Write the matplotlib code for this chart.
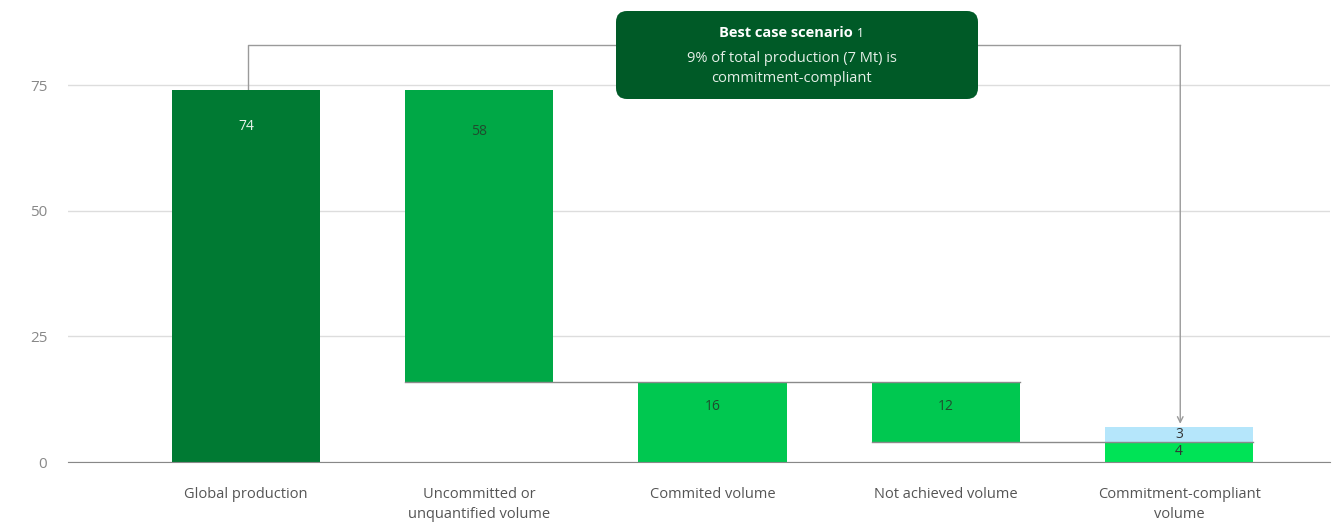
import numpy as np
import matplotlib.pyplot as plt
from matplotlib.patches import FancyBboxPatch

plt.rcParams['font.family'] = ['Open Sans', 'DejaVu Sans']

# waterfall data (Mt)
categories = ['Global production', 'Uncommitted or\nunquantified volume', 'Commited volume',
              'Not achieved volume', 'Commitment-compliant\nvolume']
values = [74, 58, 16, 12, 4]
extra = 3  # top part of last bar
bottoms = [0, 16, 0, 4, 0]
colors = ['#007A33', '#00A846', '#00C850', '#00C850', '#00E356']
extra_color = '#B5E6FB'
label_colors = ['#E8F2EA', '#1F4D2E', '#1F4D2E', '#1F4D2E', '#1F4D2E']
label_drop = [36, 41, 25, 25]  # px below bar top

x = np.arange(len(categories))
w = 0.635

fig = plt.figure(figsize=(13.34, 5.22), dpi=100)
ax = fig.add_axes([68 / 1334, 60 / 522, 1262 / 1334, 402 / 522])

ax.bar(x, values, w, bottom=bottoms, color=colors, edgecolor='none', zorder=2)
ax.bar(x[-1], extra, w, bottom=values[-1], color=extra_color, edgecolor='none', zorder=2)

# value labels
for i in range(len(categories) - 1):
    top = bottoms[i] + values[i]
    ax.annotate(str(values[i]), (x[i], top), xytext=(0, -label_drop[i] * 0.72),
                textcoords='offset points', ha='center', va='center', fontsize=10,
                color=label_colors[i])
ax.text(x[-1], values[-1] / 2, str(values[-1]), ha='center', va='center', fontsize=10,
        color='#333333', zorder=3)
ax.text(x[-1], values[-1] + extra / 2, str(extra), ha='center', va='center', fontsize=10,
        color='#333333', zorder=3)

# connector lines between steps
lc = '#8a8a8a'
ax.plot([x[1] - w / 2, x[3] + w / 2], [16, 16], color=lc, lw=1, zorder=3)
ax.plot([x[3] - w / 2, x[4] + w / 2], [4, 4], color=lc, lw=1, zorder=3)

# bracket from global production to compliant volume
yb = 82.9
ax.plot([x[0] + 0.01, x[0] + 0.01, x[4] + 0.005], [74, yb, yb], color='#9a9a9a', lw=1,
        clip_on=False, zorder=1)
ax.annotate('', xy=(x[4] + 0.005, 7.6), xytext=(x[4] + 0.005, yb),
            arrowprops=dict(arrowstyle='->', color='#9a9a9a', lw=1, shrinkA=0, shrinkB=0),
            annotation_clip=False)

# callout box (inches)
box = FancyBboxPatch((6.16, 4.23), 3.62, 0.88,
                     boxstyle='round,pad=0,rounding_size=0.11',
                     transform=fig.dpi_scale_trans,
                     facecolor='#005A27', edgecolor='none', zorder=5)
fig.patches.append(box)
cx = 797 / 1334
fig.text(786 / 1334, (522 - 33) / 522, 'Best case scenario', ha='center', va='center',
         fontsize=10.5, fontweight='bold', color='white', zorder=6)
fig.text(860 / 1334, (522 - 33.5) / 522, '1', ha='center', va='center', fontsize=8.5,
         color='white', zorder=6)
fig.text(cx - 0.004, (522 - 58) / 522, '9% of total production (7 Mt) is', ha='center',
         va='center', fontsize=10.5, color='#E6EFE8', zorder=6)
fig.text(cx - 0.004, (522 - 78) / 522, 'commitment-compliant', ha='center', va='center',
         fontsize=10.5, color='#E6EFE8', zorder=6)

ax.set_xlim(-0.763, 4.647)
ax.set_ylim(0, 80)
ax.set_yticks([0, 25, 50, 75])
ax.set_xticks(x)
ax.set_xticklabels(categories, fontsize=10.5, color='#555555', linespacing=1.45)
ax.tick_params(axis='x', length=0, pad=18)
ax.tick_params(axis='y', length=0, pad=15, labelsize=11, labelcolor='#888888')
ax.grid(axis='y', color='#DDDDDD', lw=1, zorder=0)
ax.set_axisbelow(True)
for s in ['top', 'right', 'left']:
    ax.spines[s].set_visible(False)
ax.spines['bottom'].set_color('#888888')

fig.savefig('out.png', dpi=100)
